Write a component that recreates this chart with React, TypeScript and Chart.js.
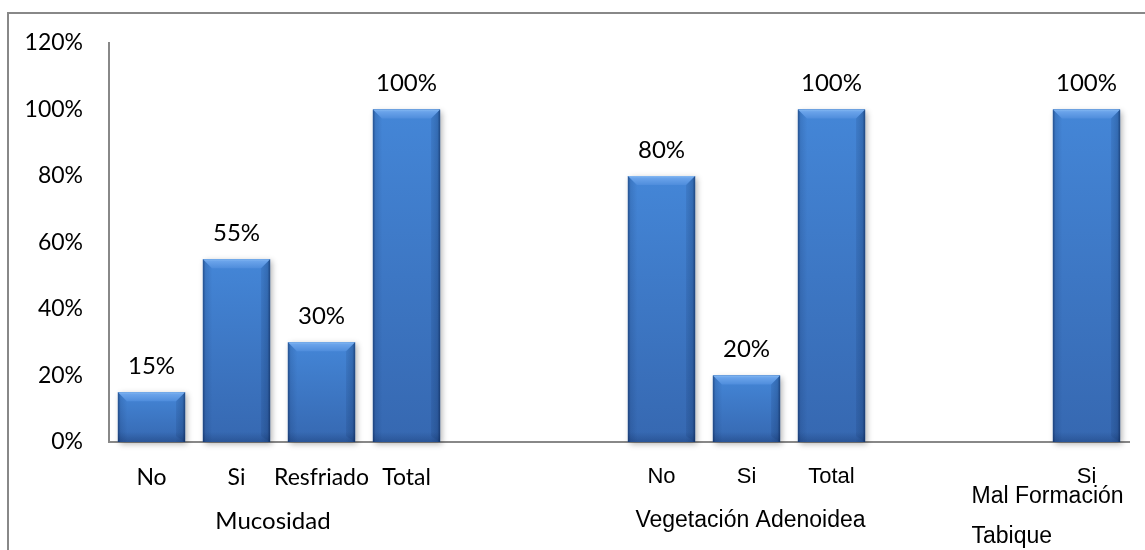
import React, { useEffect, useRef } from "react";
import { Chart, registerables } from "chart.js";

Chart.register(...registerables);

const categories = ["No", "Si", "Resfriado", "Total", "", "", "No", "Si", "Total", "", "", "Si"];
const values: (number | null)[] = [0.15, 0.55, 0.3, 1.0, null, null, 0.8, 0.2, 1.0, null, null, 1.0];
const groupLabels = [["Mucosidad"], ["Vegetación Adenoidea"], ["Mal Formación", "Tabique"]];
const groupFrom = [0, 6, 11];
const groupTo = [3, 8, 11];
const yMax = 1.2;
const yStep = 0.2;

const pct = (v: number) => Math.round(v * 100) + "%";

const barPlugin = {
  id: "bevelBars",
  afterDatasetsDraw(chart: any) {
    const ctx = chart.ctx;
    const meta = chart.getDatasetMeta(0);
    meta.data.forEach((el: any, i: number) => {
      const v = values[i];
      if (v == null) return;
      const { x, y, base, width } = el.getProps(["x", "y", "base", "width"], true);
      const x0 = x - width / 2;
      const x1 = x + width / 2;
      const h = base - y;
      const b = 9;
      ctx.save();
      ctx.shadowColor = "rgba(0,0,0,0.3)";
      ctx.shadowBlur = 6;
      ctx.shadowOffsetX = 2;
      ctx.shadowOffsetY = 2;
      ctx.fillStyle = "#3a72bd";
      ctx.fillRect(x0, y, width, h);
      ctx.restore();
      ctx.save();
      const gb = ctx.createLinearGradient(0, y, 0, base);
      gb.addColorStop(0, "#4486d7");
      gb.addColorStop(1, "#3668b1");
      ctx.fillStyle = gb;
      ctx.fillRect(x0, y, width, h);
      const g = ctx.createLinearGradient(x0, 0, x1, 0);
      g.addColorStop(0, "rgba(0,20,60,0.45)");
      g.addColorStop(0.04, "rgba(0,20,60,0.12)");
      g.addColorStop(0.14, "rgba(0,20,60,0)");
      g.addColorStop(0.86, "rgba(0,20,60,0)");
      g.addColorStop(0.96, "rgba(0,20,60,0.15)");
      g.addColorStop(1, "rgba(0,20,60,0.5)");
      ctx.fillStyle = g;
      ctx.fillRect(x0, y, width, h);
      const gv = ctx.createLinearGradient(0, base - 10, 0, base);
      gv.addColorStop(0, "rgba(0,20,60,0)");
      gv.addColorStop(1, "rgba(0,20,60,0.22)");
      ctx.fillStyle = gv;
      ctx.fillRect(x0, Math.max(y, base - 10), width, Math.min(10, h));
      const gt = ctx.createLinearGradient(0, y, 0, y + b);
      gt.addColorStop(0, "#86b9f2");
      gt.addColorStop(0.25, "#6aa3ea");
      gt.addColorStop(1, "#4f8ddc");
      ctx.fillStyle = gt;
      ctx.beginPath();
      ctx.moveTo(x0, y);
      ctx.lineTo(x1, y);
      ctx.lineTo(x1 - b, y + b);
      ctx.lineTo(x0 + b, y + b);
      ctx.closePath();
      ctx.fill();
      ctx.fillStyle = "rgba(0,20,60,0.08)";
      ctx.beginPath();
      ctx.moveTo(x1, y);
      ctx.lineTo(x1 - b, y + b);
      ctx.lineTo(x1 - b, base - 6);
      ctx.lineTo(x1, base);
      ctx.closePath();
      ctx.fill();
      ctx.restore();
      ctx.save();
      ctx.fillStyle = "#000";
      ctx.font = "24px Lato";
      ctx.textAlign = "center";
      ctx.textBaseline = "middle";
      ctx.fillText(pct(v), x, y - 26);
      ctx.restore();
    });
  },
  afterDraw(chart: any) {
    const ctx = chart.ctx;
    const xs = chart.scales.x;
    ctx.save();
    ctx.strokeStyle = "#888";
    ctx.lineWidth = 2;
    ctx.beginPath();
    ctx.moveTo(8, 560);
    ctx.lineTo(8, 13);
    ctx.lineTo(1160, 13);
    ctx.stroke();
    ctx.fillStyle = "#000";
    ctx.textBaseline = "middle";
    groupLabels.forEach((lines, gi) => {
      const a = xs.getPixelForValue(groupFrom[gi]);
      const c = xs.getPixelForValue(groupTo[gi]);
      if (lines.length === 1) {
        ctx.font = gi === 0 ? "24px Lato" : "23px 'Liberation Sans'";
        ctx.textAlign = "center";
        ctx.fillText(lines[0], (a + c) / 2 - (gi === 0 ? 6 : -4), 521);
      } else {
        ctx.font = "23px 'Liberation Sans'";
        ctx.textAlign = "left";
        lines.forEach((ln, li) => {
          ctx.fillText(ln, a - 115, 497 + li * 40);
        });
      }
    });
    ctx.restore();
  },
};

export default function App() {
  const ref = useRef<HTMLCanvasElement | null>(null);
  useEffect(() => {
    if (!ref.current) return;
    const chart = new Chart(ref.current, {
      type: "bar",
      data: {
        labels: categories,
        datasets: [
          {
            data: values as any,
            backgroundColor: "#3a76c4",
            barPercentage: 0.79,
            categoryPercentage: 1,
          },
        ],
      },
      options: {
        animation: false,
        responsive: false,
        layout: { padding: { top: 43, right: 16, left: 0, bottom: 0 } },
        plugins: { legend: { display: false }, tooltip: { enabled: false } },
        scales: {
          x: {
            grid: { display: false, drawTicks: false },
            border: { display: true, color: "#888", width: 2 },
            ticks: {
              autoSkip: false,
              maxRotation: 0,
              padding: 22,
              color: "#000",
              font: (ctx: any) =>
                ctx.index <= 3 ? { family: "Lato", size: 23 } : { family: "'Liberation Sans'", size: 22 },
            },
            afterFit: (s: any) => {
              s.height = 108;
            },
          },
          y: {
            min: 0,
            max: yMax,
            grid: { display: false, drawTicks: false },
            border: { display: true, color: "#888", width: 2 },
            ticks: {
              stepSize: yStep,
              padding: 26,
              color: "#000",
              font: { family: "Lato", size: 23 },
              callback: (v: any) => pct(Number(v)),
            },
            afterFit: (s: any) => {
              s.width = 109;
            },
          },
        },
      },
      plugins: [barPlugin],
    });
    return () => chart.destroy();
  }, []);
  return (
    <div style={{ position: "absolute", left: 0, top: 0, width: 1145, height: 550, background: "#fff" }}>
      <canvas ref={ref} width={1145} height={550} />
    </div>
  );
}
